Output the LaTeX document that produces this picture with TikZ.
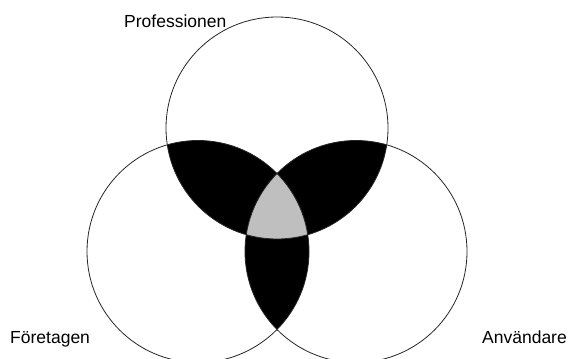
\documentclass[tikz,border=0pt]{standalone}
\usepackage{fontspec}
\setmainfont{Liberation Sans}
\usetikzlibrary{positioning}
\tikzset{
  ring/.style={draw=black!85,line width=0.8pt},
  lens/.style={fill=black},
  core/.style={fill=black!25},
  setname/.style={font=\fontsize{17.5}{20}\selectfont,inner sep=0pt},
}
\begin{document}
\begin{tikzpicture}[x=1pt,y=-1pt]
  \useasboundingbox (0,0) rectangle (569,358);
  \coordinate (prof) at (277,128);
  \coordinate (fore) at (198,251.5);
  \coordinate (anv) at (356,251.5);
  % pairwise overlaps
  \begin{scope}
    \clip (prof) circle[radius=111pt];
    \fill[lens] (fore) circle[radius=111pt];
    \fill[lens] (anv) circle[radius=111pt];
  \end{scope}
  \begin{scope}
    \clip (fore) circle[radius=111pt];
    \fill[lens] (anv) circle[radius=111pt];
  \end{scope}
  % all three
  \begin{scope}
    \clip (prof) circle[radius=111pt];
    \clip (fore) circle[radius=111pt];
    \fill[core] (anv) circle[radius=111pt];
  \end{scope}
  \foreach \c in {prof,fore,anv}
    \draw[ring] (\c) circle[radius=111pt];
  \node[setname,anchor=base west] (profname) at (124,28) {Professionen};
  \node[setname,anchor=base west] (forename) at (10,343) {Företagen};
  \node[setname,anchor=base east] (anvname) at (567,343) {Användare};
\end{tikzpicture}
\end{document}
